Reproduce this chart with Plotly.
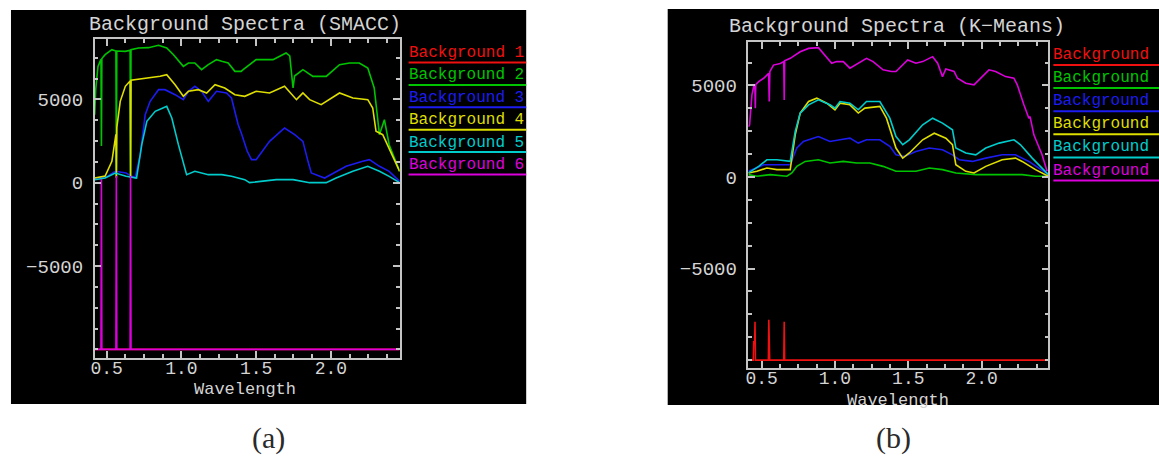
import plotly.graph_objects as go

W, H = 1159, 458

# ---------------- Background spectra, SMACC endmembers ----------------
smacc_b1_wl = [0.42, 2.46]
smacc_b1 = [-10000, -10000]

smacc_b2_wl = [0.42, 0.427, 0.442, 0.458, 0.462, 0.465, 0.468, 0.49, 0.535, 0.562, 0.565, 0.568,
               0.625, 0.657, 0.66, 0.663, 0.713, 0.78, 0.847, 0.902, 0.947, 1.013, 1.047, 1.09,
               1.135, 1.18, 1.235, 1.27, 1.313, 1.358, 1.40, 1.413, 1.50, 1.613, 1.70, 1.725,
               1.747, 1.757, 1.813, 1.88, 1.969, 2.058, 2.125, 2.19, 2.247, 2.29, 2.325, 2.358,
               2.39, 2.46]
smacc_b2 = [4080, 5600, 6980, 7380, 7400, 2200, 7450, 7680, 7980, 7900, 300, 7900,
            7880, 7950, 300, 7980, 8080, 8100, 8240, 8080, 7680, 6980, 7180, 7180,
            6780, 7080, 7380, 7280, 7180, 6680, 6680, 6780, 7380, 7380, 7780, 7600,
            5680, 6400, 6780, 6380, 6380, 7080, 7180, 7180, 6880, 5680, 2880, 3780,
            2280, 680]

smacc_b3_wl = [0.42, 0.50, 0.558, 0.63, 0.69, 0.725, 0.758, 0.791, 0.847, 0.89, 0.958, 1.013,
               1.047, 1.09, 1.135, 1.18, 1.235, 1.302, 1.335, 1.38, 1.40, 1.44, 1.469, 1.50,
               1.59, 1.69, 1.758, 1.813, 1.847, 1.869, 1.958, 2.0, 2.102, 2.213, 2.258, 2.325,
               2.39, 2.46]
smacc_b3 = [280, 350, 680, 580, 280, 1680, 4080, 4880, 5580, 5580, 5280, 4980,
            5480, 5780, 5480, 4880, 5480, 5380, 5080, 3480, 3000, 1900, 1380, 1380,
            2480, 3280, 2880, 2480, 1280, 580, 280, 480, 980, 1280, 1380, 980,
            680, 80]

smacc_b4_wl = [0.42, 0.49, 0.535, 0.562, 0.565, 0.568, 0.591, 0.625, 0.657, 0.66, 0.663, 0.691,
               0.78, 0.858, 0.902, 0.958, 1.013, 1.047, 1.113, 1.169, 1.225, 1.29, 1.358, 1.424,
               1.50, 1.59, 1.69, 1.77, 1.813, 1.858, 1.935, 2.002, 2.058, 2.147, 2.247, 2.28,
               2.302, 2.347, 2.39, 2.46]
smacc_b4 = [280, 400, 1280, 2900, 300, 3300, 4880, 5780, 6100, 300, 6150, 6180,
            6280, 6380, 6480, 5880, 5180, 5480, 5580, 5380, 5880, 5680, 5280, 5180,
            5480, 5380, 5780, 4980, 5380, 4980, 4680, 5080, 5380, 5080, 4980, 4480,
            3080, 2880, 2080, 680]

smacc_b5_wl = [0.42, 0.49, 0.558, 0.63, 0.70, 0.735, 0.769, 0.825, 0.88, 0.902, 0.936, 0.98,
               1.035, 1.09, 1.18, 1.27, 1.335, 1.424, 1.456, 1.547, 1.635, 1.747, 1.858, 1.969,
               2.035, 2.147, 2.247, 2.325, 2.39, 2.46]
smacc_b5 = [180, 280, 580, 380, 280, 2280, 3680, 4280, 4500, 4580, 3880, 2280,
            480, 680, 480, 480, 380, 180, 0, 80, 180, 180, 0, 0,
            280, 680, 980, 680, 380, 0]

smacc_b6_wl = [0.42, 0.462, 0.465, 0.468, 0.562, 0.565, 0.568, 0.657, 0.66, 0.663, 2.46]
smacc_b6 = [-10000, -10000, 200, -10000, -10000, 400, -10000, -10000, 400, -10000, -10000]

# ---------------- Background spectra, K-Means classes ----------------
km_b1_wl = [0.41, 0.443, 0.446, 0.452, 0.455, 0.458, 0.546, 0.549, 0.552, 0.555,
            0.651, 0.654, 0.657, 2.455]
km_b1 = [-10000, -10000, -9000, -9000, -7900, -10000, -10000, -7800, -8900, -10000,
         -10000, -7900, -10000, -10000]

km_b2_wl = [0.41, 0.468, 0.559, 0.672, 0.706, 0.74, 0.797, 0.887, 0.966, 1.057, 1.147, 1.238,
            1.328, 1.416, 1.552, 1.643, 1.733, 1.824, 1.96, 2.095, 2.276, 2.367, 2.455]
km_b2 = [130, 40, 130, 40, 220, 580, 850, 940, 760, 850, 760, 760,
         580, 310, 310, 490, 400, 220, 130, 130, 130, 40, 40]

km_b3_wl = [0.41, 0.514, 0.604, 0.695, 0.74, 0.785, 0.887, 0.966, 1.034, 1.102, 1.159, 1.215,
            1.306, 1.374, 1.416, 1.473, 1.552, 1.643, 1.733, 1.801, 1.847, 1.937, 2.028, 2.14,
            2.231, 2.322, 2.455]
km_b3 = [310, 670, 670, 670, 1580, 1940, 2210, 1940, 2030, 2120, 1850, 2030,
         2030, 1670, 1210, 1120, 1390, 1580, 1490, 1210, 940, 850, 1030, 1210,
         1210, 850, 130]

km_b4_wl = [0.41, 0.468, 0.536, 0.604, 0.695, 0.729, 0.763, 0.82, 0.876, 0.944, 1.0, 1.034,
            1.102, 1.159, 1.204, 1.306, 1.351, 1.396, 1.416, 1.462, 1.507, 1.598, 1.677, 1.756,
            1.801, 1.824, 1.892, 1.948, 2.028, 2.14, 2.231, 2.276, 2.367, 2.455]
km_b4 = [220, 310, 490, 400, 400, 2300, 3490, 4120, 4300, 4030, 3670, 4030,
         3940, 3490, 3760, 3850, 3210, 2120, 1580, 1030, 1310, 2030, 2390, 2120,
         1760, 670, 310, 220, 580, 940, 1030, 850, 400, 40]

km_b5_wl = [0.41, 0.48, 0.536, 0.604, 0.695, 0.729, 0.763, 0.82, 0.887, 0.966, 1.0, 1.034,
            1.102, 1.159, 1.215, 1.306, 1.374, 1.416, 1.462, 1.507, 1.598, 1.666, 1.733, 1.801,
            1.824, 1.892, 1.96, 2.028, 2.119, 2.22, 2.265, 2.345, 2.455]
km_b5 = [220, 580, 940, 940, 850, 2490, 3490, 3940, 4210, 3940, 3760, 4120,
         4030, 3670, 4120, 4120, 3210, 2210, 1760, 2030, 2850, 3210, 2940, 2580,
         1580, 1310, 1210, 1580, 1850, 2030, 1760, 1030, 130]

km_b6_wl = [0.41, 0.418, 0.434, 0.446, 0.454, 0.457, 0.460, 0.48, 0.514, 0.548, 0.552, 0.556,
            0.581, 0.627, 0.651, 0.654, 0.657, 0.695, 0.763, 0.82, 0.887, 0.932, 0.978, 1.011,
            1.057, 1.102, 1.159, 1.215, 1.26, 1.328, 1.385, 1.416, 1.496, 1.552, 1.598, 1.666,
            1.70, 1.733, 1.756, 1.778, 1.812, 1.835, 1.892, 1.948, 1.994, 2.05, 2.095, 2.163,
            2.22, 2.243, 2.288, 2.322, 2.33, 2.356, 2.412, 2.446]
km_b6 = [2740, 2850, 4480, 4940, 5000, 3760, 5050, 5210, 5390, 5660, 4120, 5750,
         6110, 6200, 6300, 4210, 6350, 6480, 6840, 7020, 7060, 6660, 6210, 6300,
         6300, 5940, 6210, 6480, 6300, 5850, 5760, 5760, 6390, 6210, 6300, 6570,
         6210, 5480, 5900, 5850, 5760, 5390, 5120, 5030, 5390, 5850, 5760, 5480,
         5390, 5030, 3940, 3210, 3300, 2300, 1210, 310]

series_names = ["Background 1", "Background 2", "Background 3",
                "Background 4", "Background 5", "Background 6"]
series_colors = ["#f01010", "#00c400", "#1c1cf0", "#dede00", "#00cccc", "#dc00dc"]

smacc_sets = [(smacc_b1_wl, smacc_b1), (smacc_b2_wl, smacc_b2), (smacc_b3_wl, smacc_b3),
              (smacc_b4_wl, smacc_b4), (smacc_b5_wl, smacc_b5), (smacc_b6_wl, smacc_b6)]
km_sets = [(km_b1_wl, km_b1), (km_b2_wl, km_b2), (km_b3_wl, km_b3),
           (km_b4_wl, km_b4), (km_b5_wl, km_b5), (km_b6_wl, km_b6)]

x_ticks = [0.5, 1.0, 1.5, 2.0]
y_ticks = [-5000, 0, 5000]

AXIS_GREY = "#c4c4c4"
TEXT_GREY = "#d4d4d4"
MONO = "Liberation Mono, DejaVu Sans Mono, monospace"


def px(x):
    return x / W


def py(y):
    return 1 - y / H


fig = go.Figure()
for (wl, vals), name, col in zip(smacc_sets, series_names, series_colors):
    fig.add_trace(go.Scatter(x=wl, y=vals, mode="lines", name=name, showlegend=False,
                             line=dict(color=col, width=1.6), xaxis="x", yaxis="y"))
for (wl, vals), name, col in zip(km_sets, series_names, series_colors):
    fig.add_trace(go.Scatter(x=wl, y=vals, mode="lines", name=name, showlegend=False,
                             line=dict(color=col, width=1.6), xaxis="x2", yaxis="y2"))


def x_axis(domain, anchor, rng, standoff):
    return dict(domain=domain, anchor=anchor, range=rng, tickvals=x_ticks,
                ticktext=[f"{t:.1f}" for t in x_ticks],
                showgrid=False, zeroline=False, showline=True, linecolor=AXIS_GREY,
                linewidth=1.5, mirror="ticks", ticks="inside", ticklen=7, tickwidth=1.5,
                tickcolor=AXIS_GREY, ticklabelstandoff=standoff,
                tickfont=dict(family=MONO, size=18, color=TEXT_GREY),
                minor=dict(ticks="inside", ticklen=4, tickwidth=1.5, tickcolor=AXIS_GREY,
                           tickmode="linear", tick0=0.5, dtick=0.125, showgrid=False))


def y_axis(domain, anchor, rng):
    return dict(domain=domain, anchor=anchor, range=rng, tickvals=y_ticks,
                ticktext=[f"{t:d}".replace("-", "\u2212") for t in y_ticks],
                showgrid=False, zeroline=False, showline=True, linecolor=AXIS_GREY,
                linewidth=1.5, mirror="ticks", ticks="inside", ticklen=7, tickwidth=1.5,
                tickcolor=AXIS_GREY, ticklabelstandoff=6,
                tickfont=dict(family=MONO, size=19, color=TEXT_GREY),
                minor=dict(ticks="inside", ticklen=4, tickwidth=1.5, tickcolor=AXIS_GREY,
                           tickmode="linear", tick0=0, dtick=1250, showgrid=False))


shapes = [
    # black panels
    dict(type="rect", xref="paper", yref="paper", x0=px(7), x1=px(524), y0=py(404), y1=py(10),
         fillcolor="black", line=dict(width=0), layer="below"),
    dict(type="rect", xref="paper", yref="paper", x0=px(666), x1=px(1159), y0=py(405), y1=py(9),
         fillcolor="black", line=dict(width=0), layer="below"),
]

annotations = [
    dict(text="Background Spectra (SMACC)", x=px(242), y=py(25), xref="paper", yref="paper",
         showarrow=False, xanchor="center", yanchor="middle",
         font=dict(family=MONO, size=20, color=TEXT_GREY)),
    dict(text="Background Spectra (K\u2212Means)", x=px(896), y=py(27), xref="paper", yref="paper",
         showarrow=False, xanchor="center", yanchor="middle",
         font=dict(family=MONO, size=20, color=TEXT_GREY)),
    dict(text="Wavelength", x=px(242), y=py(389), xref="paper", yref="paper",
         showarrow=False, xanchor="center", yanchor="middle",
         font=dict(family=MONO, size=17, color=TEXT_GREY)),
    dict(text="Wavelength", x=px(897), y=py(400), xref="paper", yref="paper",
         showarrow=False, xanchor="center", yanchor="middle",
         font=dict(family=MONO, size=17, color=TEXT_GREY)),
    dict(text="(a)", x=px(265), y=py(438), xref="paper", yref="paper",
         showarrow=False, xanchor="center", yanchor="middle",
         font=dict(family="Liberation Serif, serif", size=30, color="#2a2a2a")),
    dict(text="(b)", x=px(893), y=py(438), xref="paper", yref="paper",
         showarrow=False, xanchor="center", yanchor="middle",
         font=dict(family="Liberation Serif, serif", size=30, color="#2a2a2a")),
]

# legend blocks: coloured label with an underline in the same colour
for i, (name, col) in enumerate(zip(series_names, series_colors)):
    ty, ly = 53 + 22.4 * i, 62.5 + 22.4 * i
    annotations.append(dict(text=name, x=px(404), y=py(ty), xref="paper", yref="paper",
                            showarrow=False, xanchor="left", yanchor="middle",
                            font=dict(family=MONO, size=16, color=col)))
    shapes.append(dict(type="line", xref="paper", yref="paper", x0=px(406), x1=px(524),
                       y0=py(ly), y1=py(ly), line=dict(color=col, width=2)))
    ty, ly = 55 + 23.1 * i, 65 + 23.1 * i
    annotations.append(dict(text=name, x=px(1051), y=py(ty), xref="paper", yref="paper",
                            showarrow=False, xanchor="left", yanchor="middle",
                            font=dict(family=MONO, size=16, color=col)))
    shapes.append(dict(type="line", xref="paper", yref="paper", x0=px(1053), x1=px(1159),
                       y0=py(ly), y1=py(ly), line=dict(color=col, width=2)))

fig.update_layout(
    width=W, height=H, margin=dict(l=0, r=0, t=0, b=0),
    paper_bgcolor="white", plot_bgcolor="black", showlegend=False,
    xaxis=x_axis([px(91), px(397)], "y", [0.42, 2.46], -7),
    yaxis=y_axis([py(358), py(39)], "x", [-10520, 8620]),
    xaxis2=x_axis([px(747), px(1048)], "y2", [0.41, 2.455], -7),
    yaxis2=y_axis([py(368), py(42)], "x2", [-10430, 7370]),
    shapes=shapes, annotations=annotations,
)

fig.write_html("out.html")
